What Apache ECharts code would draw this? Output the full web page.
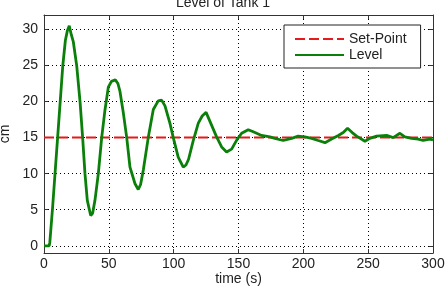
<!DOCTYPE html>
<html>
<head>
<meta charset="utf-8">
<script src="https://cdn.jsdelivr.net/npm/echarts@6/dist/echarts.min.js"></script>
<style>
html,body{margin:0;padding:0;background:#fff;}
#c{width:446px;height:286px;}
</style>
</head>
<body>
<div id="c"></div>
<script>
const titleText = "Level of Tank 1";
const xName = "time (s)";
const yName = "cm";
const setPointName = "Set-Point";
const levelName = "Level";

const setPointT = [0, 300];
const setPointV = [15, 15];

const levelT = [0, 4, 4.5, 6.5, 8.5, 10.5, 12.5, 14.5, 16.5, 18, 19.5, 21, 22.6, 25.2, 27.8, 29.8, 31.6, 33.4, 36, 37.5, 39.3, 41.9, 44.5, 47, 49.6, 52, 55, 57, 58.6, 61.2, 63.8, 66.3, 70.2, 72.7, 74.5, 76.6, 80.4, 84.3, 88.1, 90.7, 93.3, 97.1, 99.7, 103.5, 107.4, 109.5, 111.5, 115, 119, 122, 125, 129.3, 133.1, 137, 140.8, 144.7, 148.6, 152.4, 157.5, 161.4, 167.8, 174.2, 178.1, 184.5, 191, 196, 201.2, 206.4, 211.5, 216.7, 221.8, 227, 230.8, 234.1, 237.7, 241.1, 247.5, 251.3, 256.5, 264.2, 269.3, 274.5, 278.3, 283.5, 288.6, 292.4, 297.6, 300];
const levelV = [0, 0, 0.5, 5, 10, 15, 20, 25, 28.5, 29.8, 30.5, 29.3, 28.3, 25, 20, 15, 10, 6.3, 4.2, 4.5, 6.3, 10, 15, 18.8, 22, 22.8, 23, 22.5, 21.4, 18.4, 15, 10.9, 8.6, 7.8, 8.5, 10.5, 15, 18.9, 20.1, 20.2, 19.4, 17, 15, 12.3, 10.9, 11.2, 12, 14.5, 17, 18, 18.5, 16.7, 15.1, 13.7, 13, 13.4, 14.65, 15.6, 16.1, 15.8, 15.3, 15.1, 14.9, 14.6, 14.9, 15.2, 15.1, 14.9, 14.6, 14.3, 14.8, 15.3, 15.7, 16.3, 15.7, 15.2, 14.5, 14.9, 15.2, 15.3, 15.0, 15.6, 15.1, 14.9, 14.8, 14.6, 14.8, 14.7];

const xMin = 0, xMax = 300, xStep = 50;
const yMin = -1, yMax = 32;

const zip = (a, b) => a.map((v, i) => [v, b[i]]);
const font = '"Liberation Sans", Arial, sans-serif';
const frame = '#333';

const chart = echarts.init(document.getElementById('c'), null, {renderer: 'canvas'});
const baseX = {
  type: 'value', min: xMin, max: xMax, interval: xStep,
  axisLine: {show: true, onZero: false, lineStyle: {color: frame, width: 1}},
  axisTick: {show: true, inside: true, length: 4, lineStyle: {color: frame}},
  splitLine: {show: false}
};
const baseY = {
  type: 'value', min: yMin, max: yMax, splitNumber: 7, minInterval: 5, maxInterval: 5,
  axisLine: {show: true, onZero: false, lineStyle: {color: frame, width: 1}},
  axisTick: {show: true, inside: true, length: 4, lineStyle: {color: frame}},
  splitLine: {show: false}
};
chart.setOption({
  animation: false,
  backgroundColor: '#fff',
  title: {
    text: titleText, left: 'center', top: -4, padding: 0,
    textStyle: {fontFamily: font, fontSize: 14, fontWeight: 'normal', color: '#222'}
  },
  legend: {
    orient: 'vertical', left: 284, top: 25,
    padding: [7, 14, 6, 10], itemGap: 2, itemWidth: 49, itemHeight: 14,
    backgroundColor: '#fff', borderColor: '#222', borderWidth: 1, borderRadius: 0,
    itemStyle: {opacity: 0},
    textStyle: {fontFamily: font, fontSize: 14, color: '#222'},
    data: [setPointName, levelName]
  },
  grid: {left: 44, right: 13, top: 15, bottom: 33, containLabel: false, outerBoundsMode: 'none'},
  xAxis: [
    Object.assign({}, baseX, {
      position: 'bottom',
      name: xName, nameLocation: 'middle', nameGap: 19, nameMoveOverlap: false,
      nameTextStyle: {fontFamily: font, fontSize: 14, color: '#222'},
      axisLabel: {show: true, margin: 4, fontFamily: font, fontSize: 14, color: '#222'},
      splitLine: {show: true, lineStyle: {color: '#000', width: 1, type: [1, 3]}}
    }),
    Object.assign({}, baseX, {position: 'top', axisLabel: {show: false}})
  ],
  yAxis: [
    Object.assign({}, baseY, {
      position: 'left',
      name: yName, nameLocation: 'middle', nameGap: 32, nameRotate: 90, nameMoveOverlap: false,
      nameTextStyle: {fontFamily: font, fontSize: 14, color: '#222'},
      axisLabel: {show: true, margin: 6, fontFamily: font, fontSize: 14, color: '#222',
        formatter: v => (v % 5 === 0 ? String(v) : '')},
      splitLine: {show: true, lineStyle: {color: '#000', width: 1, type: [1, 3]}}
    }),
    Object.assign({}, baseY, {position: 'right', axisLabel: {show: false}})
  ],
  series: [
    {
      name: setPointName, type: 'line', data: zip(setPointT, setPointV),
      symbol: 'none', silent: true,
      lineStyle: {color: '#e41a1c', width: 2, type: [10, 4]},
      itemStyle: {color: '#e41a1c'}
    },
    {
      name: levelName, type: 'line', data: zip(levelT, levelV),
      symbol: 'none', silent: true,
      lineStyle: {color: '#0a800a', width: 2.8},
      itemStyle: {color: '#0a800a'}
    }
  ]
});
</script>
</body>
</html>
